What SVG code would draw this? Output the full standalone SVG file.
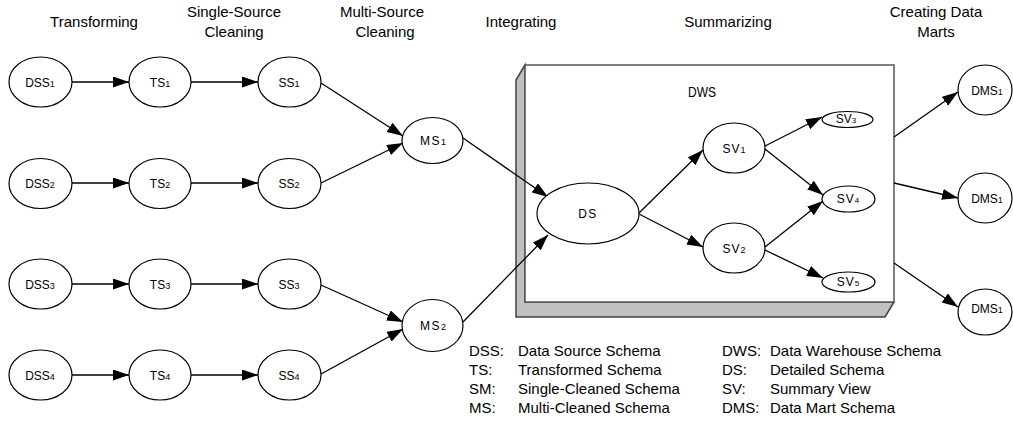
<svg xmlns="http://www.w3.org/2000/svg" width="1013" height="421" viewBox="0 0 1013 421">
<style>
text{font-family:"Liberation Sans",Arial,sans-serif;fill:#000}
.h{font-size:15px;text-anchor:middle}
.n{font-size:12px;text-anchor:middle}
.s{font-size:9px}
.lg{font-size:15px}
ellipse{fill:#fff;stroke:#000;stroke-width:1.2}
.c line{stroke:#000;stroke-width:1.3;marker-end:url(#ah)}
</style>
<defs>
<marker id="ah" markerUnits="userSpaceOnUse" markerWidth="16" markerHeight="12" refX="16" refY="5.5" orient="auto">
<path d="M0,0 L16,5.5 L0,11 z" fill="#000"/>
</marker>
</defs>
<rect width="1013" height="421" fill="#fff"/>

<g id="headings">
<text class="h" x="94" y="27">Transforming</text>
<text class="h" x="234" y="17">Single-Source</text>
<text class="h" x="234" y="37">Cleaning</text>
<text class="h" x="382" y="17">Multi-Source</text>
<text class="h" x="385" y="37">Cleaning</text>
<text class="h" x="521" y="27">Integrating</text>
<text class="h" x="728" y="27">Summarizing</text>
<text class="h" x="936" y="17">Creating Data</text>
<text class="h" x="936" y="37">Marts</text>
</g>

<g id="DWS">
<polygon points="525,65 516,80 516,317 885,317 894,302 525,302" fill="#c0c0c0" stroke="#404040" stroke-width="1.5"/>
<rect x="525" y="65" width="369" height="237" fill="#fff" stroke="#555" stroke-width="1.5"/>
<text x="688" y="97" font-size="14" textLength="28" lengthAdjust="spacingAndGlyphs">DWS</text>
</g>

<g class="c" id="connectors">
<line x1="72" y1="82" x2="129" y2="82"/>
<line x1="191" y1="82" x2="258" y2="82"/>
<line x1="72" y1="183" x2="129" y2="183"/>
<line x1="191" y1="183" x2="258" y2="183"/>
<line x1="72" y1="284" x2="129" y2="284"/>
<line x1="191" y1="284" x2="258" y2="284"/>
<line x1="72" y1="375" x2="129" y2="375"/>
<line x1="191" y1="375" x2="258" y2="375"/>
<line x1="321" y1="83" x2="403" y2="136"/>
<line x1="321" y1="183" x2="403" y2="143"/>
<line x1="321" y1="285" x2="403" y2="322"/>
<line x1="321" y1="374" x2="403" y2="329"/>
<line x1="463" y1="138" x2="548" y2="197"/>
<line x1="463" y1="322" x2="548" y2="235"/>
<line x1="639" y1="213" x2="703" y2="150"/>
<line x1="639" y1="214" x2="703" y2="247"/>
<line x1="765" y1="146" x2="822" y2="117"/>
<line x1="765" y1="149" x2="823" y2="195"/>
<line x1="765" y1="247" x2="823" y2="201"/>
<line x1="765" y1="250" x2="823" y2="278"/>
<line x1="894" y1="137" x2="958" y2="92"/>
<line x1="894" y1="183" x2="958" y2="198"/>
<line x1="894" y1="263" x2="958" y2="307"/>
</g>

<g id="DSS1"><ellipse cx="40.5" cy="82" rx="31.5" ry="25"/><text class="n" x="40" y="86.5">DSS<tspan class="s">1</tspan></text></g>
<g id="DSS2"><ellipse cx="40.5" cy="183.5" rx="31.5" ry="25"/><text class="n" x="40" y="188">DSS<tspan class="s">2</tspan></text></g>
<g id="DSS3"><ellipse cx="40.5" cy="284" rx="31.5" ry="25"/><text class="n" x="40" y="288.5">DSS<tspan class="s">3</tspan></text></g>
<g id="DSS4"><ellipse cx="40.5" cy="375" rx="31.5" ry="25"/><text class="n" x="40" y="379.5">DSS<tspan class="s">4</tspan></text></g>

<g id="TS1"><ellipse cx="160" cy="82" rx="31" ry="25"/><text class="n" x="160" y="86.5">TS<tspan class="s">1</tspan></text></g>
<g id="TS2"><ellipse cx="160" cy="183.5" rx="31" ry="25"/><text class="n" x="160" y="188">TS<tspan class="s">2</tspan></text></g>
<g id="TS3"><ellipse cx="160" cy="284" rx="31" ry="25"/><text class="n" x="160" y="288.5">TS<tspan class="s">3</tspan></text></g>
<g id="TS4"><ellipse cx="160" cy="375" rx="31" ry="25"/><text class="n" x="160" y="379.5">TS<tspan class="s">4</tspan></text></g>

<g id="SS1"><ellipse cx="289.5" cy="82" rx="31.5" ry="25"/><text class="n" x="289" y="86.5">SS<tspan class="s">1</tspan></text></g>
<g id="SS2"><ellipse cx="289.5" cy="183.5" rx="31.5" ry="25"/><text class="n" x="289" y="188">SS<tspan class="s">2</tspan></text></g>
<g id="SS3"><ellipse cx="289.5" cy="284" rx="31.5" ry="25"/><text class="n" x="289" y="288.5">SS<tspan class="s">3</tspan></text></g>
<g id="SS4"><ellipse cx="289.5" cy="375" rx="31.5" ry="25"/><text class="n" x="289" y="379.5">SS<tspan class="s">4</tspan></text></g>

<g id="MS1"><ellipse cx="432.5" cy="140.5" rx="30.5" ry="23"/><text class="n" x="433" y="145" letter-spacing="1.5">MS<tspan class="s" letter-spacing="0">1</tspan></text></g>
<g id="MS2"><ellipse cx="432.5" cy="325.5" rx="30.5" ry="26"/><text class="n" x="433" y="330" letter-spacing="1.5">MS<tspan class="s" letter-spacing="0">2</tspan></text></g>

<g id="DS"><ellipse cx="588" cy="213.5" rx="51" ry="30.5"/><text class="n" x="588" y="218" letter-spacing="1.5">DS</text></g>

<g id="SV1"><ellipse cx="734" cy="148" rx="31" ry="25"/><text class="n" x="734" y="152.5" letter-spacing="1">SV<tspan class="s" letter-spacing="0">1</tspan></text></g>
<g id="SV2"><ellipse cx="734" cy="248" rx="31" ry="25"/><text class="n" x="734" y="252.5" letter-spacing="1">SV<tspan class="s" letter-spacing="0">2</tspan></text></g>
<g id="SV3"><ellipse cx="847.5" cy="119.5" rx="25.5" ry="8"/><text class="n" x="846" y="123" font-size="10">SV<tspan font-size="8">3</tspan></text></g>
<g id="SV4"><ellipse cx="848.5" cy="199" rx="26.5" ry="13"/><text class="n" x="848" y="203" font-size="11" letter-spacing="1">SV<tspan font-size="8" letter-spacing="0">4</tspan></text></g>
<g id="SV5"><ellipse cx="848.5" cy="282" rx="26.5" ry="10"/><text class="n" x="848" y="286" font-size="11" letter-spacing="1">SV<tspan font-size="8" letter-spacing="0">5</tspan></text></g>

<g id="DMS1a"><ellipse cx="985" cy="90" rx="27" ry="25"/><text class="n" x="987" y="94.5">DMS<tspan class="s">1</tspan></text></g>
<g id="DMS1b"><ellipse cx="985" cy="198" rx="27" ry="25"/><text class="n" x="987" y="202.5">DMS<tspan class="s">1</tspan></text></g>
<g id="DMS1c"><ellipse cx="985" cy="312" rx="27" ry="23"/><text class="n" x="987" y="312.5">DMS<tspan class="s">1</tspan></text></g>

<g id="legend">
<text class="lg" x="469" y="356">DSS:</text><text class="lg" x="518" y="356">Data Source Schema</text>
<text class="lg" x="469" y="375">TS:</text><text class="lg" x="518" y="375">Transformed Schema</text>
<text class="lg" x="469" y="394">SM:</text><text class="lg" x="518" y="394">Single-Cleaned Schema</text>
<text class="lg" x="469" y="413">MS:</text><text class="lg" x="518" y="413">Multi-Cleaned Schema</text>
<text class="lg" x="722" y="356">DWS:</text><text class="lg" x="770" y="356">Data Warehouse Schema</text>
<text class="lg" x="722" y="375">DS:</text><text class="lg" x="770" y="375">Detailed Schema</text>
<text class="lg" x="722" y="394">SV:</text><text class="lg" x="770" y="394">Summary View</text>
<text class="lg" x="722" y="413">DMS:</text><text class="lg" x="770" y="413">Data Mart Schema</text>
</g>
</svg>
